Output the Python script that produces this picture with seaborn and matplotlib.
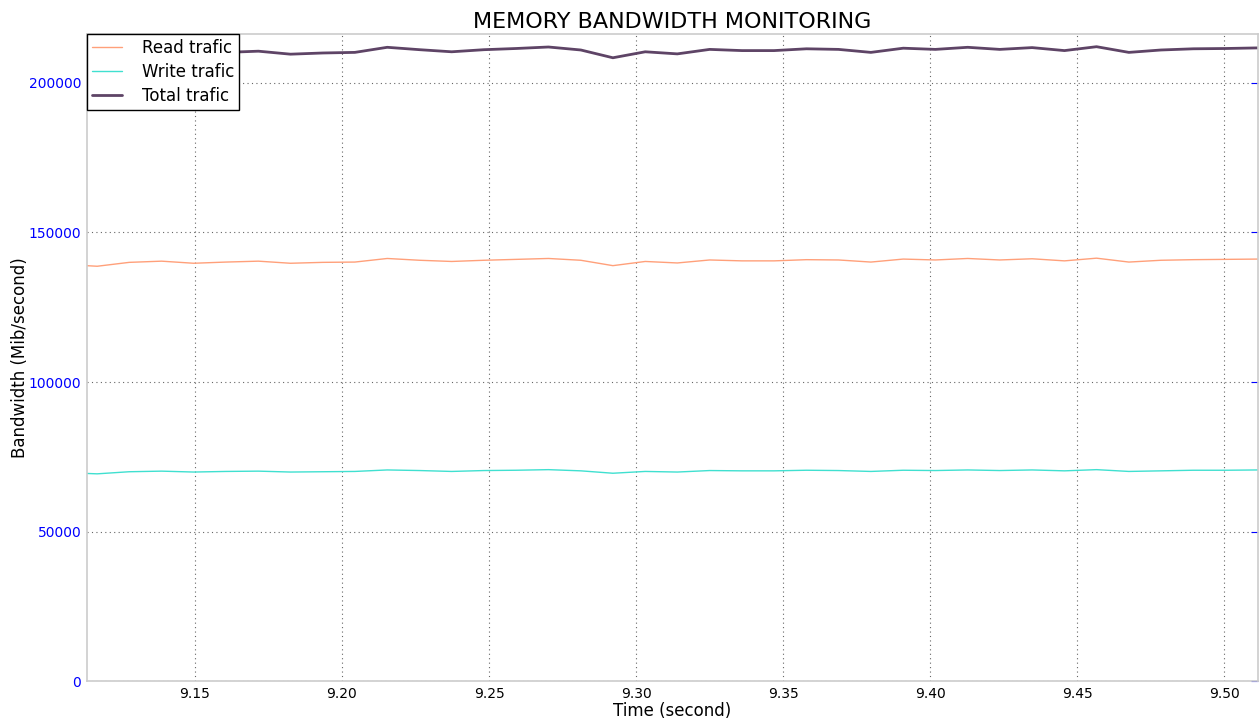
import numpy as np
import pandas as pd
import matplotlib
matplotlib.use("Agg")
import matplotlib.pyplot as plt
import seaborn as sns

# Sample times (seconds)
time_s = [9.1058, 9.1168, 9.1277, 9.1387, 9.1496, 9.1606, 9.1716, 9.1825, 9.1935, 9.2044,
          9.2154, 9.2264, 9.2373, 9.2483, 9.2592, 9.2702, 9.2812, 9.2921, 9.3031, 9.3140,
          9.3250, 9.3360, 9.3469, 9.3579, 9.3688, 9.3798, 9.3908, 9.4017, 9.4127, 9.4236,
          9.4346, 9.4456, 9.4565, 9.4675, 9.4784, 9.4894, 9.5004, 9.5113]

# Bandwidth (Mib/second)
read_trafic = [139300, 138700, 140000, 140400, 139700, 140100, 140400, 139700, 140000, 140100,
               141300, 140700, 140300, 140700, 141000, 141300, 140700, 138900, 140300, 139800,
               140800, 140500, 140500, 140900, 140800, 140100, 141100, 140800, 141300, 140800,
               141200, 140500, 141400, 140100, 140700, 140900, 141000, 141100]
write_trafic = [69700, 69300, 70000, 70200, 69900, 70100, 70200, 69900, 70000, 70100,
                70600, 70400, 70100, 70400, 70500, 70700, 70300, 69500, 70100, 69900,
                70400, 70300, 70300, 70500, 70400, 70100, 70500, 70400, 70600, 70400,
                70600, 70300, 70700, 70100, 70300, 70500, 70500, 70600]
total_trafic = [209000, 208000, 210000, 210600, 209600, 210200, 210600, 209600, 210000, 210200,
                211900, 211100, 210400, 211100, 211500, 212000, 211000, 208400, 210400, 209700,
                211200, 210800, 210800, 211400, 211200, 210200, 211600, 211200, 211900, 211200,
                211800, 210800, 212100, 210200, 211000, 211400, 211500, 211700]

df = pd.DataFrame({'time': time_s, 'read': read_trafic,
                   'write': write_trafic, 'total': total_trafic})

sns.set_style("white")
plt.rcParams['font.family'] = ['DejaVu Sans']
plt.rcParams['text.color'] = 'black'
plt.rcParams['axes.labelcolor'] = 'black'

fig = plt.figure(figsize=(12.59, 7.2), dpi=100)
ax = fig.add_axes([0.069, 0.054, 0.930, 0.899])

sns.lineplot(data=df, x='time', y='read', ax=ax, color='#ffa07a', linewidth=1.0, label='Read trafic')
sns.lineplot(data=df, x='time', y='write', ax=ax, color='#40e0d0', linewidth=1.0, label='Write trafic')
sns.lineplot(data=df, x='time', y='total', ax=ax, color='#5e4466', linewidth=2.0, label='Total trafic')

ax.set_xlim(9.1133, 9.5113)
ax.set_ylim(0, 216400)
ax.set_xticks([9.15, 9.20, 9.25, 9.30, 9.35, 9.40, 9.45, 9.50])
ax.set_xticklabels(['9.15', '9.20', '9.25', '9.30', '9.35', '9.40', '9.45', '9.50'])
ax.set_yticks([0, 50000, 100000, 150000, 200000])

ax.grid(True, linestyle=(0, (1, 3)), color='#666666', linewidth=0.8)
for sp in ax.spines.values():
    sp.set_color('#cccccc')
    sp.set_linewidth(1.2)

ax.tick_params(axis='y', colors='blue', labelsize=10, direction='in', length=5,
               right=True, left=False, pad=4)
ax.tick_params(axis='x', colors='black', labelsize=10, length=0, pad=4)

ax.set_title('MEMORY BANDWIDTH MONITORING', fontsize=16, pad=4, color='black')
ax.set_xlabel('Time (second)', fontsize=12, labelpad=1, color='black')
ax.set_ylabel('Bandwidth (Mib/second)', fontsize=12, labelpad=0, color='black')

leg = ax.legend(loc='upper left', fontsize=12, fancybox=False, framealpha=1,
                borderaxespad=0, handlelength=1.8, handletextpad=1.2, borderpad=0.3,
                labelspacing=0.35)
leg.get_frame().set_edgecolor('black')
leg.get_frame().set_linewidth(1.0)
for t in leg.get_texts():
    t.set_color('black')

fig.savefig('out.png', dpi=100)
